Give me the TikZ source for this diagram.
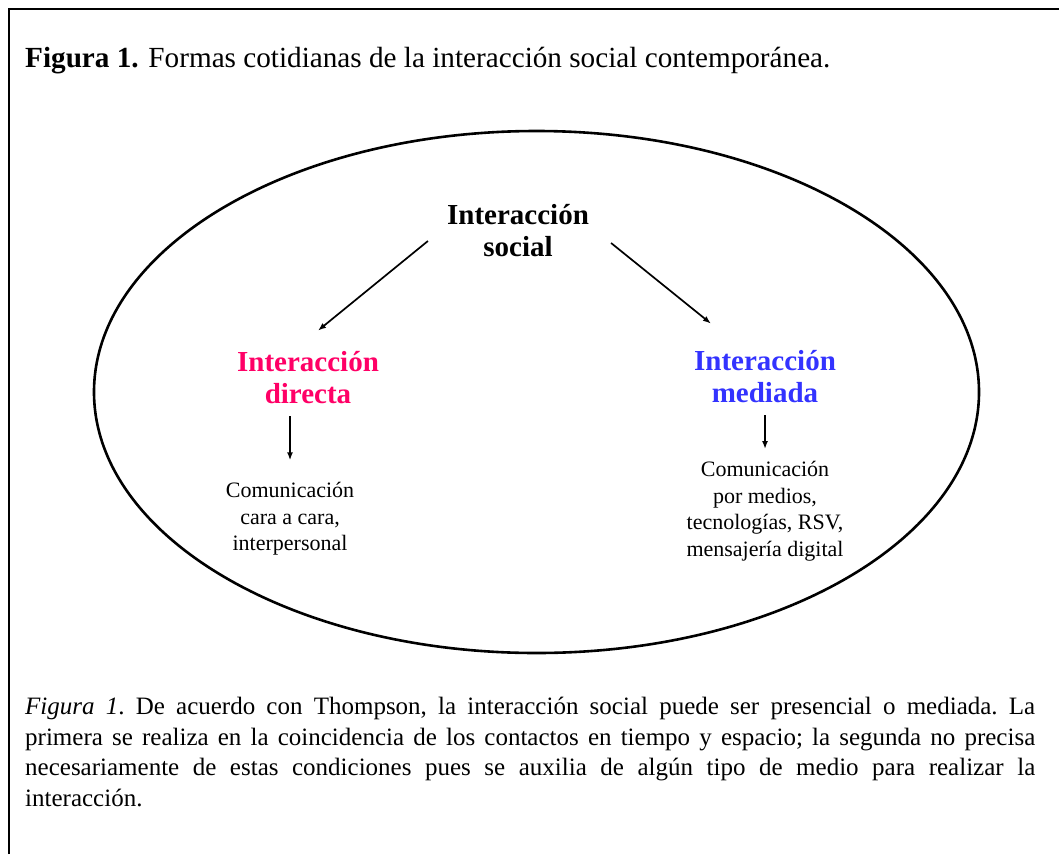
\documentclass[tikz,border=0pt]{standalone}
\usepackage{fontspec}
\setmainfont{Liberation Serif}
\usetikzlibrary{arrows.meta}
\definecolor{rosa}{RGB}{255,0,102}
\definecolor{azul}{RGB}{51,51,255}

\begin{document}
\begin{tikzpicture}[x=1pt,y=-1pt,
    titulo/.style={font=\fontsize{29}{32}\selectfont\bfseries, align=center, inner sep=2pt},
    texto/.style={font=\fontsize{22}{26.5}\selectfont, align=center, inner sep=2pt},
    flecha/.style={-{Latex[length=8pt,width=6pt]}, line width=1.7pt}]
    \useasboundingbox (0,0) rectangle (1059,854);
    % marco
    \draw[line width=2pt] (9,854) -- (9,9) -- (1059,9);
    \node[anchor=west, font=\fontsize{29.2}{32}\selectfont, inner sep=0pt] (fig) at (25,61)
        {\textbf{Figura 1.} Formas cotidianas de la interacción social contemporánea.};
    \draw[line width=2.6pt] (536.5,392) ellipse (442.5pt and 261pt);
    % nodos
    \node[titulo] (social) at (518,231) {Interacción\\social};
    \node[titulo, text=rosa] (directa) at (308,378) {Interacción\\directa};
    \node[titulo, text=azul] (mediada) at (765,377) {Interacción\\mediada};
    \node[texto] (cara) at (290,519) {Comunicación\\cara a cara,\\interpersonal};
    \node[texto] (medios) at (765,511) {Comunicación\\por medios,\\tecnologías, RSV,\\mensajería digital};
    % flechas
    \draw[flecha] ([shift={(-17,10)}]social.west) -- ([shift={(10,-19)}]directa.north);
    \draw[flecha] ([shift={(20,12)}]social.east) -- ([shift={(19,-25)}]mediada.north west);
    \draw[flecha, shorten <=10pt, shorten >=20pt] (cara.north |- directa.south) -- (cara.north);
    \draw[flecha, shorten <=10pt, shorten >=10pt] (medios.north |- mediada.south) -- (medios.north);
    % nota
    \node[anchor=north west, text width=1010pt, align=justify, inner sep=0pt,
        font=\fontsize{25}{30.6}\selectfont\frenchspacing] (nota) at (25,697)
        {\textit{Figura 1}. De acuerdo con Thompson, la interacción social puede ser presencial o mediada. La\linebreak
        primera se realiza en la coincidencia de los contactos en tiempo y espacio; la segunda no precisa\linebreak
        necesariamente de estas condiciones pues se auxilia de algún tipo de medio para realizar la\linebreak
        interacción.};
\end{tikzpicture}
\end{document}
